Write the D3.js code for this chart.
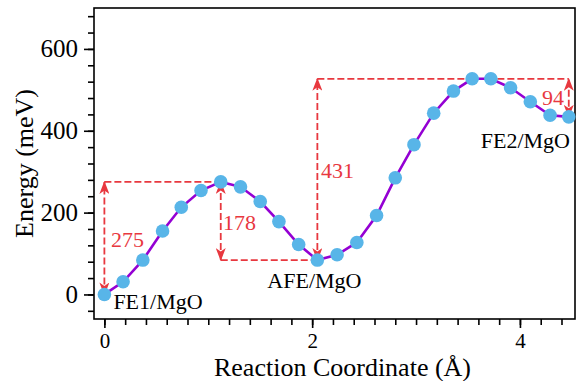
<!DOCTYPE html>
<html>
<head>
<meta charset="utf-8">
<script src="https://cdn.jsdelivr.net/npm/d3@7"></script>
<style>
  body { margin: 0; background: #fff; }
</style>
</head>
<body>
<div id="chart"></div>
<script>
// reaction path (NEB images)
const coord = [0, 0.18, 0.37, 0.56, 0.74, 0.93, 1.12, 1.31, 1.50, 1.68, 1.87, 2.05, 2.24,
  2.43, 2.62, 2.80, 2.98, 3.17, 3.36, 3.54, 3.72, 3.91, 4.10, 4.29, 4.47];
const energy = [0, 31, 84, 155, 213, 254, 275, 263, 227, 178, 122, 84, 97,
  127, 193, 285, 366, 443, 497, 527, 527, 505, 471, 438, 434];

const stateNames = ['FE1/MgO', 'AFE/MgO', 'FE2/MgO'];
const stateIndex = [0, 11, 24];

// barriers: [from image, to image, label]
const barrierFrom = [0, 11, 11, 24];
const barrierTo = [6, 6, 19, 19];
const barrierLabel = ['275', '178', '431', '94'];

const xMajor = [0, 2, 4];
const yMajor = [0, 200, 400, 600];

const width = 576, height = 381;
const margin = {top: 8, right: 1, bottom: 62, left: 94};
const serif = '"Liberation Serif", "Times New Roman", Times, serif';

const svg = d3.select('#chart').append('svg')
  .attr('width', width)
  .attr('height', height)
  .attr('font-family', serif);

const x = d3.scaleLinear().domain([-0.1, 4.53]).range([margin.left, width - margin.right]);
const y = d3.scaleLinear().domain([-60, 700]).range([height - margin.bottom, margin.top]);

const red = '#e8383f';

svg.append('defs').append('marker')
  .attr('id', 'head')
  .attr('viewBox', '0 -5 13 10')
  .attr('refX', 12)
  .attr('refY', 0)
  .attr('markerWidth', 13)
  .attr('markerHeight', 10)
  .attr('markerUnits', 'userSpaceOnUse')
  .attr('orient', 'auto-start-reverse')
  .append('path')
  .attr('d', 'M0,-5L13,0L0,5L3.5,0Z')
  .attr('fill', red);

// axes
const xAxis = d3.axisBottom(x)
  .tickValues(d3.range(0, 4.41, 0.2))
  .tickSize(6)
  .tickFormat('');
const yAxis = d3.axisLeft(y)
  .tickValues(d3.range(-40, 681, 40))
  .tickSize(6)
  .tickFormat('');

svg.append('g').attr('transform', `translate(0,${y.range()[0]})`).call(xAxis);
svg.append('g').attr('transform', `translate(${margin.left},0)`).call(yAxis);
const gxMajor = svg.append('g').attr('transform', `translate(0,${y.range()[0]})`)
  .call(d3.axisBottom(x).tickValues(xMajor).tickSize(9).tickPadding(5).tickFormat(d3.format('d')));
const gyMajor = svg.append('g').attr('transform', `translate(${margin.left},0)`)
  .call(d3.axisLeft(y).tickValues(yMajor).tickSize(10).tickPadding(6).tickFormat(d3.format('d')));

svg.selectAll('g').attr('font-family', serif);
svg.selectAll('.domain').remove();
svg.selectAll('.tick line').attr('stroke', '#000').attr('stroke-width', 1.6);
gxMajor.selectAll('.tick text').attr('font-size', 21).attr('fill', '#000');
gyMajor.selectAll('.tick text').attr('font-size', 25).attr('fill', '#000');

svg.append('rect')
  .attr('x', x.range()[0])
  .attr('y', y.range()[1])
  .attr('width', x.range()[1] - x.range()[0])
  .attr('height', y.range()[0] - y.range()[1])
  .attr('fill', 'none')
  .attr('stroke', '#000')
  .attr('stroke-width', 1.6);

svg.append('text')
  .attr('x', (x.range()[0] + x.range()[1]) / 2 + 8)
  .attr('y', 376)
  .attr('text-anchor', 'middle')
  .attr('font-size', 26)
  .text('Reaction Coordinate (Å)');

svg.append('text')
  .attr('transform', `translate(33,${(y.range()[0] + y.range()[1]) / 2}) rotate(-90)`)
  .attr('text-anchor', 'middle')
  .attr('font-size', 26)
  .text('Energy (meV)');

// barrier annotations
const ann = svg.append('g');
barrierLabel.forEach((lab, i) => {
  const a = barrierFrom[i], b = barrierTo[i];
  const ax = x(coord[a]);
  const y0 = y(energy[a]), y1 = y(energy[b]);
  // horizontal guide at the far level
  let hx0, hx1, hy;
  if (i === 0) { hx0 = ax; hx1 = x(coord[b]); hy = y1; }
  else if (i === 1) { hx0 = x(coord[b]); hx1 = x(coord[11]); hy = y(energy[11]); }
  else if (i === 2) { hx0 = ax; hx1 = x(coord[24]); hy = y1; }
  else { hx0 = null; }
  if (hx0 !== null) {
    ann.append('line')
      .attr('x1', hx0).attr('x2', hx1).attr('y1', hy).attr('y2', hy)
      .attr('stroke', red).attr('stroke-width', 1.8).attr('stroke-dasharray', '7,3');
  }
  const vx = i === 1 ? x(coord[6]) : ax;
  ann.append('line')
    .attr('x1', vx).attr('x2', vx)
    .attr('y1', y0).attr('y2', y1)
    .attr('stroke', red).attr('stroke-width', 1.8).attr('stroke-dasharray', '7,3')
    .attr('marker-start', 'url(#head)')
    .attr('marker-end', 'url(#head)');
});

const labelPos = [[111, 247], [223, 230], [321, 178], [542, 105]];
barrierLabel.forEach((lab, i) => {
  ann.append('text')
    .attr('x', labelPos[i][0])
    .attr('y', labelPos[i][1])
    .attr('font-size', 22)
    .attr('fill', red)
    .text(lab);
});

// path
svg.append('path')
  .datum(coord.map((c, i) => [c, energy[i]]))
  .attr('fill', 'none')
  .attr('stroke', '#9400d3')
  .attr('stroke-width', 2.6)
  .attr('d', d3.line().x(d => x(d[0])).y(d => y(d[1])));

svg.append('g').selectAll('circle')
  .data(coord.map((c, i) => [c, energy[i]]))
  .join('circle')
  .attr('cx', d => x(d[0]))
  .attr('cy', d => y(d[1]))
  .attr('r', 6.8)
  .attr('fill', '#58b5e8');

// state labels
const stateOffset = [[9, 15], [-50, 28], [-88, 31]];
stateNames.forEach((name, i) => {
  const k = stateIndex[i];
  svg.append('text')
    .attr('x', x(coord[k]) + stateOffset[i][0])
    .attr('y', y(energy[k]) + stateOffset[i][1])
    .attr('font-size', 22)
    .text(name);
});
</script>
</body>
</html>
